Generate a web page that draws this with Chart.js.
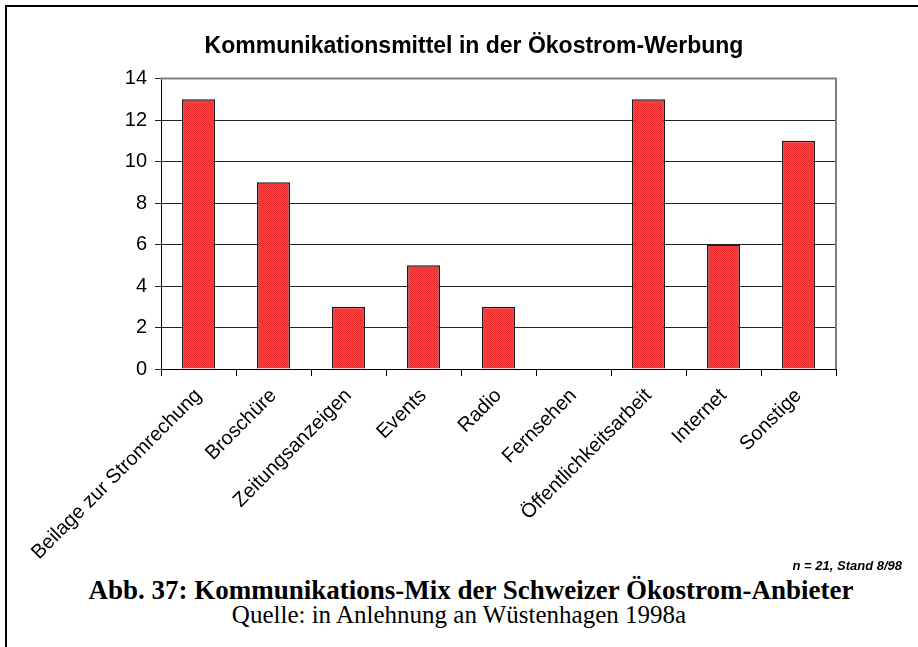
<!DOCTYPE html>
<html lang="de">
<head>
<meta charset="utf-8">
<title>Kommunikations-Mix der Schweizer Ökostrom-Anbieter</title>
<script src="https://cdn.jsdelivr.net/npm/chart.js@4.4.1/dist/chart.umd.min.js"></script>
<style>
    html, body {
        margin: 0;
        padding: 0;
        background: #fff;
        width: 918px;
        height: 647px;
        overflow: hidden;
    }
    #frame {
        position: absolute;
        left: 5px;
        top: 5px;
        width: 940px;
        height: 700px;
        border-left: 2px solid #000;
        border-top: 2px solid #000;
    }
    #chart-wrap {
        position: absolute;
        left: 0;
        top: 0;
        width: 918px;
        height: 570px;
    }
    #note {
        position: absolute;
        right: 16px;
        top: 558px;
        font: italic bold 13px "Liberation Sans", Arial, sans-serif;
        color: #000;
    }
    #caption {
        position: absolute;
        left: 12px;
        width: 918px;
        top: 575px;
        line-height: 30px;
        text-align: center;
        font-family: "Liberation Serif", "Times New Roman", serif;
        font-weight: bold;
        font-size: 27px;
        color: #000;
    }
    #source {
        position: absolute;
        left: 0;
        width: 918px;
        top: 601px;
        line-height: 28px;
        text-align: center;
        font-family: "Liberation Serif", "Times New Roman", serif;
        font-size: 25px;
        color: #000;
    }
</style>
</head>
<body>
<div id="frame"></div>
<div id="chart-wrap"><canvas id="chart" width="918" height="570"></canvas></div>
<div id="note">n = 21, Stand 8/98</div>
<div id="caption">Abb. 37: Kommunikations-Mix der Schweizer Ökostrom-Anbieter</div>
<div id="source">Quelle: in Anlehnung an Wüstenhagen 1998a</div>

<script>
// Number of suppliers using each channel
const categories = [
    'Beilage zur Stromrechung',
    'Broschüre',
    'Zeitungsanzeigen',
    'Events',
    'Radio',
    'Fernsehen',
    'Öffentlichkeitsarbeit',
    'Internet',
    'Sonstige'
];
const counts = [13, 9, 3, 5, 3, 0, 13, 6, 11];
const yTicks = [0, 2, 4, 6, 8, 10, 12, 14];

// Fine dithered red fill like the old office chart pattern
function makeBarPattern() {
    const c = document.createElement('canvas');
    c.width = 2;
    c.height = 2;
    const g = c.getContext('2d');
    g.fillStyle = '#ff4444';
    g.fillRect(0, 0, 2, 2);
    g.fillStyle = '#ec2c2c';
    g.fillRect(0, 0, 1, 1);
    g.fillRect(1, 1, 1, 1);
    return g.createPattern(c, 'repeat');
}

// Grey frame on the top and right of the plot area
const plotFrame = {
    id: 'plotFrame',
    afterDraw(chart) {
        const { ctx, chartArea } = chart;
        ctx.save();
        ctx.strokeStyle = '#808080';
        ctx.lineWidth = 2;
        ctx.beginPath();
        ctx.moveTo(chartArea.left, chartArea.top);
        ctx.lineTo(chartArea.right, chartArea.top);
        ctx.lineTo(chartArea.right, chartArea.bottom);
        ctx.stroke();
        ctx.restore();
    }
};

const axisFont = { family: '"Liberation Sans", Arial, sans-serif', size: 20 };

new Chart(document.getElementById('chart'), {
    type: 'bar',
    data: {
        labels: categories,
        datasets: [{
            data: counts,
            backgroundColor: makeBarPattern(),
            borderColor: '#1a1a1a',
            borderWidth: 1.5,
            barPercentage: 0.44,
            categoryPercentage: 1
        }]
    },
    plugins: [plotFrame],
    options: {
        responsive: false,
        animation: false,
        layout: {
            padding: { top: 28, left: 112, right: 82, bottom: 0 }
        },
        plugins: {
            legend: { display: false },
            tooltip: { enabled: false },
            title: {
                display: true,
                text: 'Kommunikationsmittel in der Ökostrom-Werbung',
                color: '#000',
                font: { family: '"Liberation Sans", Arial, sans-serif', size: 23, weight: 'bold' },
                padding: { top: 5, bottom: 18 }
            }
        },
        scales: {
            x: {
                afterFit(scale) { scale.height = 201; },
                border: { color: '#000', width: 1 },
                grid: {
                    display: true,
                    drawOnChartArea: false,
                    offset: true,
                    color: '#000',
                    tickLength: 7
                },
                ticks: {
                    color: '#000',
                    font: axisFont,
                    minRotation: 45,
                    maxRotation: 45,
                    autoSkip: false,
                    padding: 8
                }
            },
            y: {
                min: yTicks[0],
                max: yTicks[yTicks.length - 1],
                afterFit(scale) { scale.width = 49; },
                afterBuildTicks(scale) {
                    scale.ticks = yTicks.map(v => ({ value: v }));
                },
                border: { color: '#000', width: 1 },
                grid: {
                    color: '#222',
                    lineWidth: 1,
                    tickLength: 6
                },
                ticks: {
                    color: '#000',
                    font: axisFont,
                    padding: 8
                }
            }
        }
    }
});
</script>
</body>
</html>
